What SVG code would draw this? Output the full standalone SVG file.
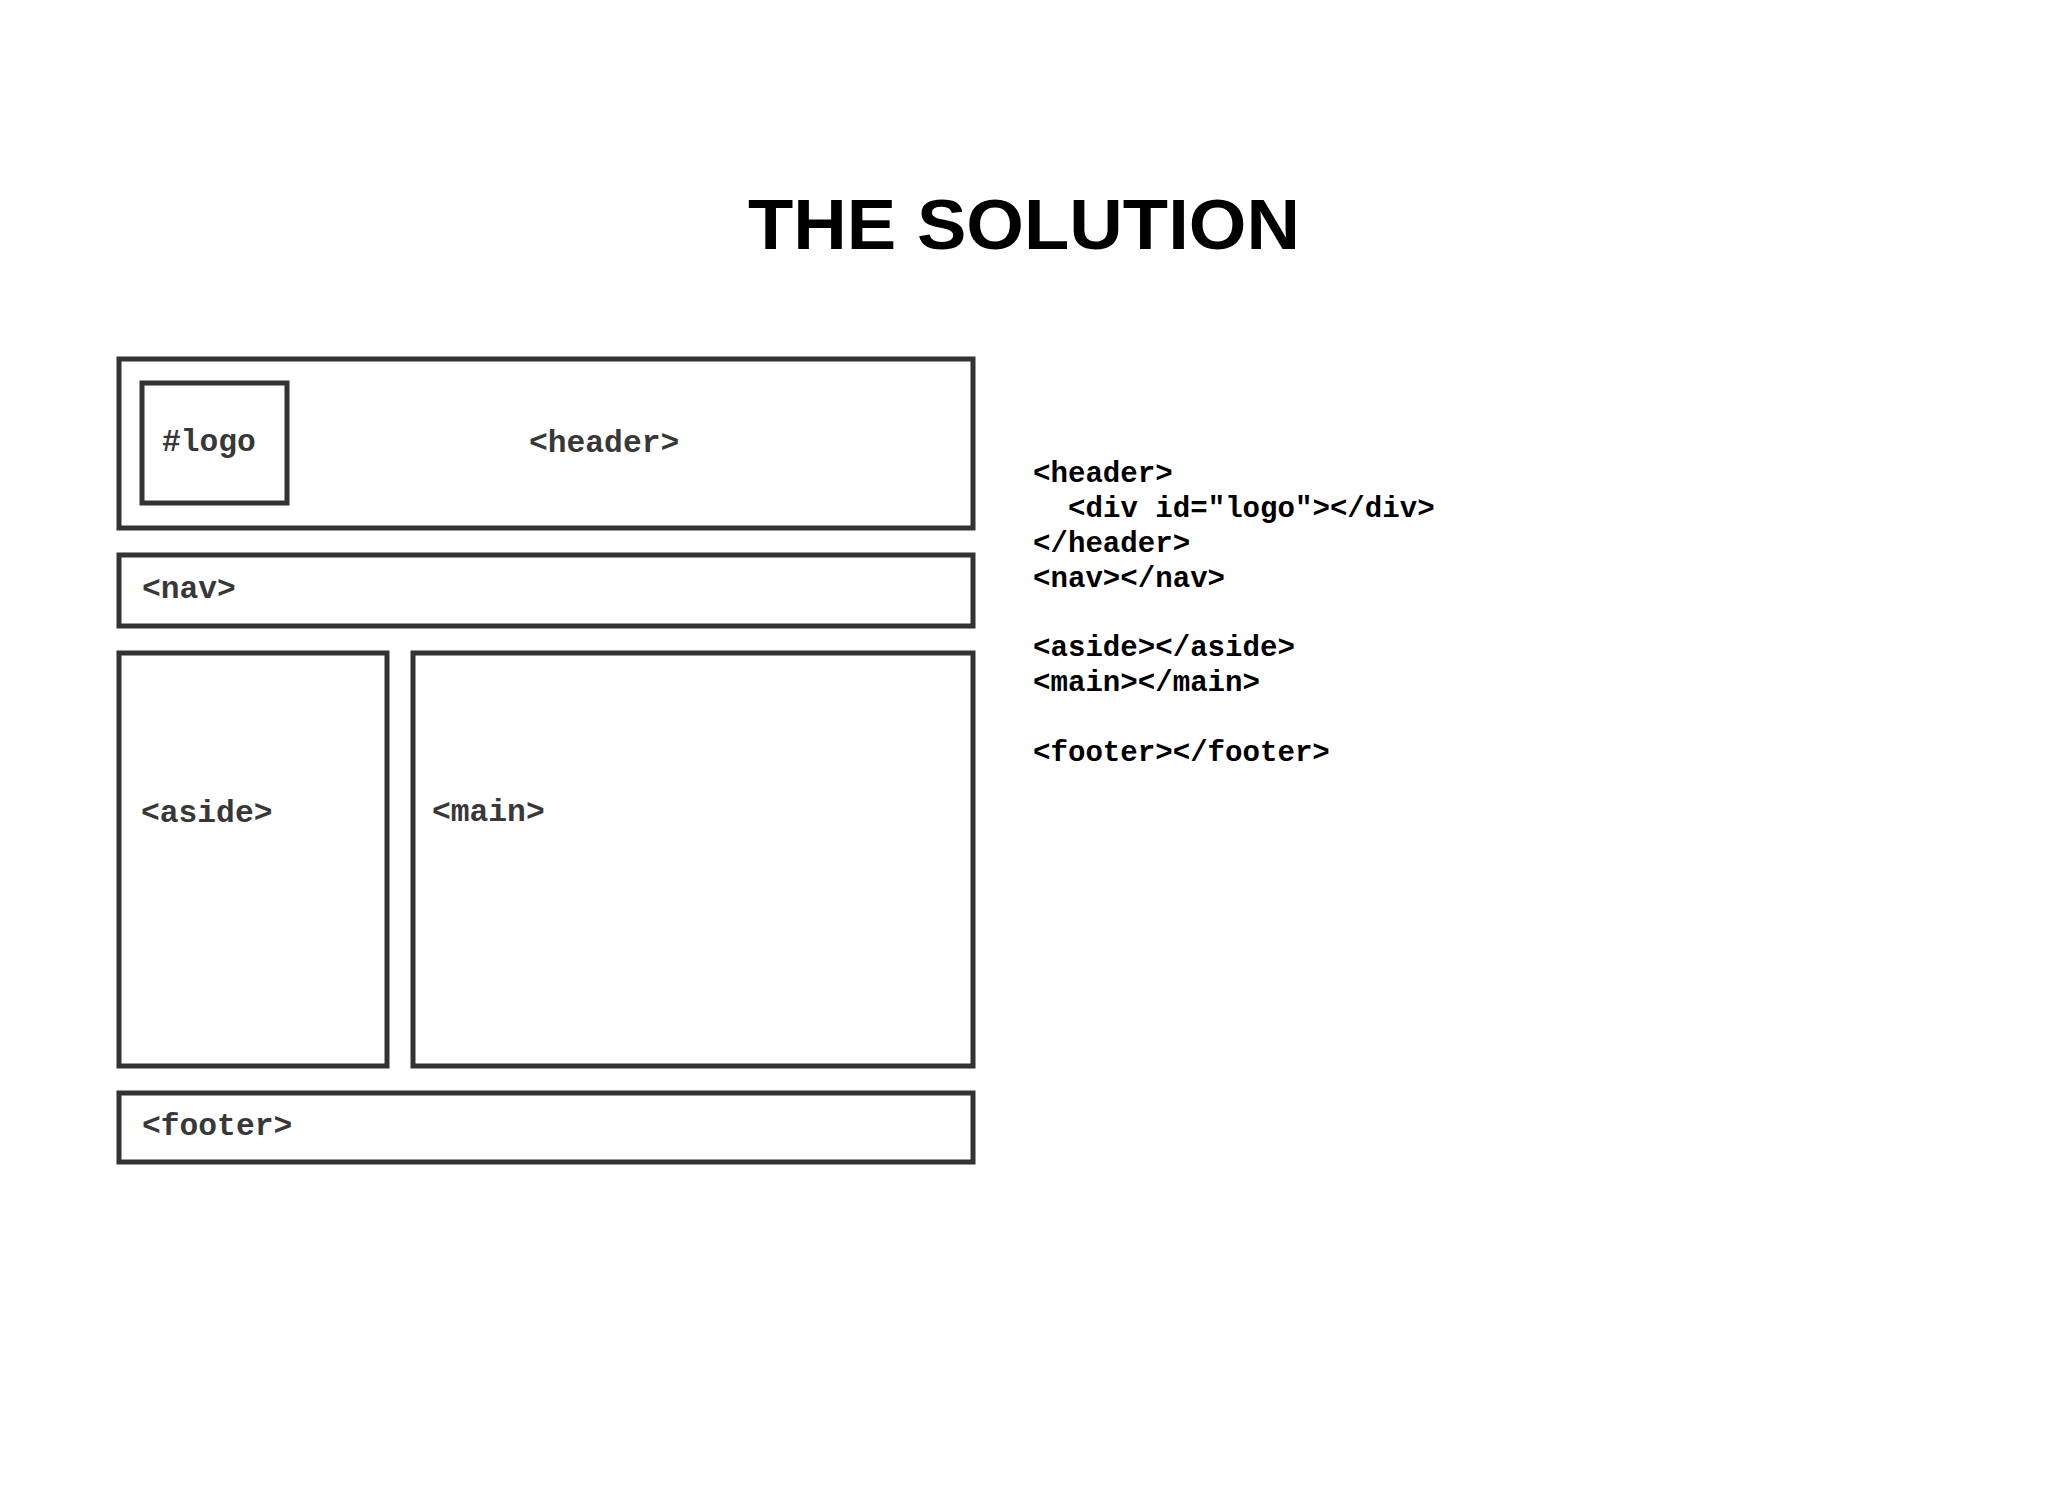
<svg xmlns="http://www.w3.org/2000/svg" width="2048" height="1492" viewBox="0 0 2048 1492">
<style>
.box{fill:#fff;stroke:#333;stroke-width:5}
.lbl{font-family:"Liberation Mono","Courier New",monospace;font-weight:bold;font-size:31.3px;fill:#383838}
.code{font-family:"Liberation Mono","Courier New",monospace;font-weight:bold;font-size:29.1px;fill:#000}
.title{font-family:"Liberation Sans",Arial,sans-serif;font-weight:bold;font-size:71px;fill:#000}
</style>
<rect width="2048" height="1492" fill="#fff"/>
<text class="title" x="1024" y="249" text-anchor="middle" textLength="552" lengthAdjust="spacingAndGlyphs">THE SOLUTION</text>
<g id="header"><rect class="box" x="119" y="359" width="854" height="169"/><text class="lbl" x="529" y="452">&lt;header&gt;</text></g>
<g id="logo"><rect class="box" x="142" y="383" width="145" height="120"/><text class="lbl" x="162" y="451">#logo</text></g>
<g id="nav"><rect class="box" x="119" y="555" width="854" height="71"/><text class="lbl" x="142" y="598">&lt;nav&gt;</text></g>
<g id="aside"><rect class="box" x="119" y="653" width="268" height="413"/><text class="lbl" x="141" y="822">&lt;aside&gt;</text></g>
<g id="main"><rect class="box" x="413" y="653" width="560" height="413"/><text class="lbl" x="432" y="821">&lt;main&gt;</text></g>
<g id="footer"><rect class="box" x="119" y="1093" width="854" height="69"/><text class="lbl" x="142" y="1135">&lt;footer&gt;</text></g>
<g id="code">
<text class="code" x="1033" y="482">&lt;header&gt;</text>
<text class="code" x="1068" y="517">&lt;div id="logo"&gt;&lt;/div&gt;</text>
<text class="code" x="1033" y="552">&lt;/header&gt;</text>
<text class="code" x="1033" y="587">&lt;nav&gt;&lt;/nav&gt;</text>
<text class="code" x="1033" y="656">&lt;aside&gt;&lt;/aside&gt;</text>
<text class="code" x="1033" y="691">&lt;main&gt;&lt;/main&gt;</text>
<text class="code" x="1033" y="761">&lt;footer&gt;&lt;/footer&gt;</text>
</g>
<g id="connectors"/>
</svg>
